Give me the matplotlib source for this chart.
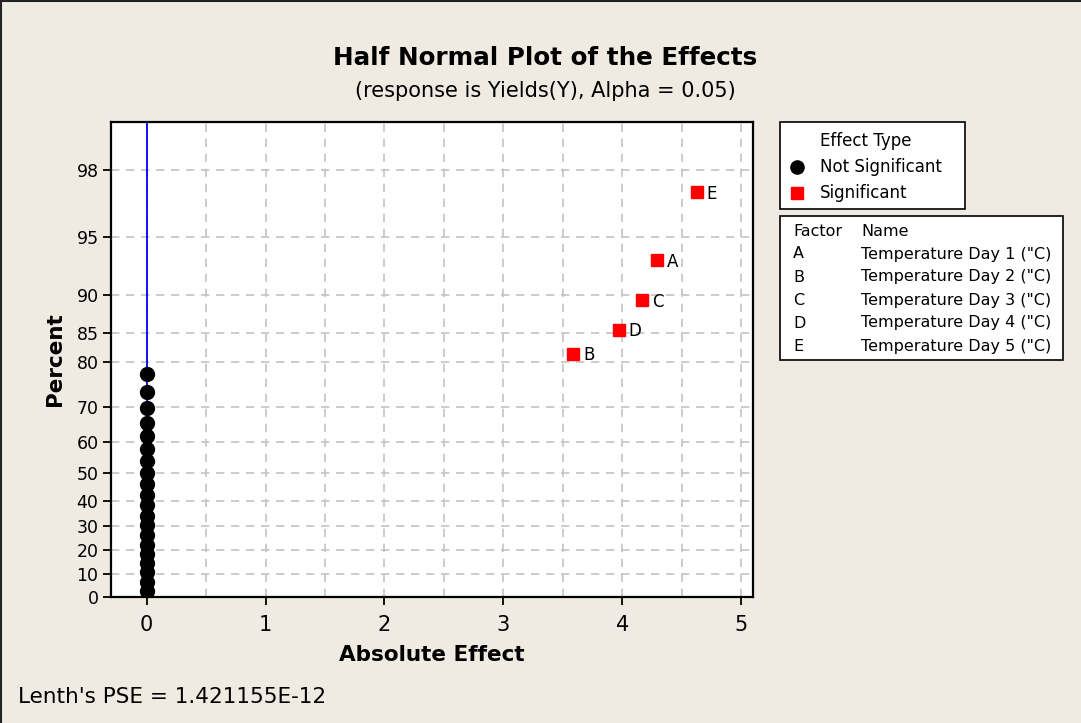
import math
from statistics import NormalDist

import numpy as np
import matplotlib
matplotlib.use("Agg")
import matplotlib.pyplot as plt
from matplotlib.lines import Line2D
from matplotlib.patches import Rectangle

# effects that are not significant (all at ~0) and their plotted percent
ns_effect = [0.0] * 20
ns_percent = [2.76, 6.69, 10.63, 14.57, 18.50, 22.44, 26.38, 30.31, 34.25, 38.19,
              42.13, 46.06, 50.00, 53.94, 57.87, 61.81, 65.75, 69.69, 73.62, 77.56]

# significant effects
sig_names = ["B", "D", "C", "A", "E"]
sig_effect = [3.59, 3.97, 4.17, 4.29, 4.63]
sig_percent = [81.50, 85.43, 89.37, 93.31, 97.24]

y_ticks = [0, 10, 20, 30, 40, 50, 60, 70, 80, 85, 90, 95, 98]
x_ticks = [0, 1, 2, 3, 4, 5]

factors = ["A", "B", "C", "D", "E"]
factor_names = ['Temperature Day 1 ("C)', 'Temperature Day 2 ("C)', 'Temperature Day 3 ("C)',
                'Temperature Day 4 ("C)', 'Temperature Day 5 ("C)']

bg = "#EFEBE2"
W, H = 1081, 723


def pct_to_z(p):
    p = np.clip(np.asarray(p, dtype=float), -99.99999, 99.99999)
    return np.vectorize(lambda v: NormalDist().inv_cdf(0.5 + v / 200.0), otypes=[float])(p)


def z_to_pct(z):
    z = np.asarray(z, dtype=float)
    return np.vectorize(lambda v: 100.0 * math.erf(v / math.sqrt(2)), otypes=[float])(z)


def fx(px):
    return px / W


def fy(py):
    return 1 - py / H


plt.rcParams['font.family'] = ['DejaVu Sans']

fig = plt.figure(figsize=(W / 100, H / 100), dpi=100, facecolor=bg)
# frame only on the top and left edge
fig.add_artist(Line2D([fx(1), fx(1)], [0, fy(0.5)], color='#222222', linewidth=1.5))
fig.add_artist(Line2D([fx(1), 1], [fy(0.5), fy(0.5)], color='#222222', linewidth=1.5))

ax = fig.add_axes([fx(111), fy(597), fx(753) - fx(111), fy(122) - fy(597)])
ax.set_facecolor('white')
ax.set_yscale('function', functions=(pct_to_z, z_to_pct))
ax.set_xlim(-0.3, 5.1)
ax.set_ylim(0, 99.03)

ax.set_yticks(y_ticks)
ax.set_yticklabels([str(t) for t in y_ticks])
ax.yaxis.set_minor_locator(matplotlib.ticker.NullLocator())
ax.set_xticks(x_ticks)
ax.set_xticks(np.arange(0.5, 5.0, 1.0), minor=True)

ax.grid(True, which='major', axis='y', color='#C4C4C4', linestyle=(0, (5, 4)), linewidth=1.2)
ax.grid(True, which='both', axis='x', color='#C4C4C4', linestyle=(0, (5, 4)), linewidth=1.2)
ax.tick_params(axis='x', which='minor', length=0)
ax.tick_params(axis='both', which='major', direction='out', length=6, width=1.3, color='black')
ax.tick_params(axis='y', labelsize=12.5, pad=3)
ax.tick_params(axis='x', labelsize=15, pad=7)
for sp in ax.spines.values():
    sp.set_linewidth(1.6)

ax.axvline(0, color='#0000FF', linewidth=1.3, zorder=2)

ax.plot(ns_effect, ns_percent, 'o', color='black', markersize=10, zorder=3)
ax.plot(sig_effect, sig_percent, 's', color='#FF0000', markersize=8.5, zorder=3)
for n, xv, yv in zip(sig_names, sig_effect, sig_percent):
    ax.annotate(n, (xv, yv), xytext=(7, -1), textcoords='offset points',
                va='center', ha='left', fontsize=12)

ax.set_xlabel("Absolute Effect", fontsize=15.5, fontweight='bold', labelpad=7)
ax.set_ylabel("Percent", fontsize=15.5, fontweight='bold', labelpad=8)

fig.text(0.5045, fy(58), "Half Normal Plot of the Effects", ha='center', va='center',
         fontsize=17.7, fontweight='bold')
fig.text(0.5045, fy(91), "(response is Yields(Y), Alpha = 0.05)", ha='center', va='center',
         fontsize=15)
fig.text(fx(18), fy(697), "Lenth's PSE = 1.421155E-12", ha='left', va='center', fontsize=15.5)

# effect type legend box
fig.patches.append(Rectangle((fx(780), fy(209)), fx(965) - fx(780), fy(122) - fy(209),
                             transform=fig.transFigure, facecolor='white',
                             edgecolor='black', linewidth=1.2))
fig.text(fx(820), fy(141), "Effect Type", ha='left', va='center', fontsize=12)
fig.add_artist(Line2D([fx(797)], [fy(166.5)], marker='o', color='black', markersize=9.5,
                      linestyle=''))
fig.text(fx(820), fy(166.5), "Not Significant", ha='left', va='center', fontsize=12)
fig.add_artist(Line2D([fx(797)], [fy(193)], marker='s', color='#FF0000', markersize=8.5,
                      linestyle=''))
fig.text(fx(820), fy(193), "Significant", ha='left', va='center', fontsize=12)

# factor / name table
fig.patches.append(Rectangle((fx(780), fy(360)), fx(1063) - fx(780), fy(216) - fy(360),
                             transform=fig.transFigure, facecolor='white',
                             edgecolor='black', linewidth=1.2))
fig.text(fx(793), fy(231), "Factor", ha='left', va='center', fontsize=11.5)
fig.text(fx(861), fy(231), "Name", ha='left', va='center', fontsize=11.5)
for i, (f, nm) in enumerate(zip(factors, factor_names)):
    yy = 254 + i * 23
    fig.text(fx(793), fy(yy), f, ha='left', va='center', fontsize=11.5)
    fig.text(fx(861), fy(yy), nm, ha='left', va='center', fontsize=11.5)

fig.savefig("out.png", dpi=100, facecolor=bg)
